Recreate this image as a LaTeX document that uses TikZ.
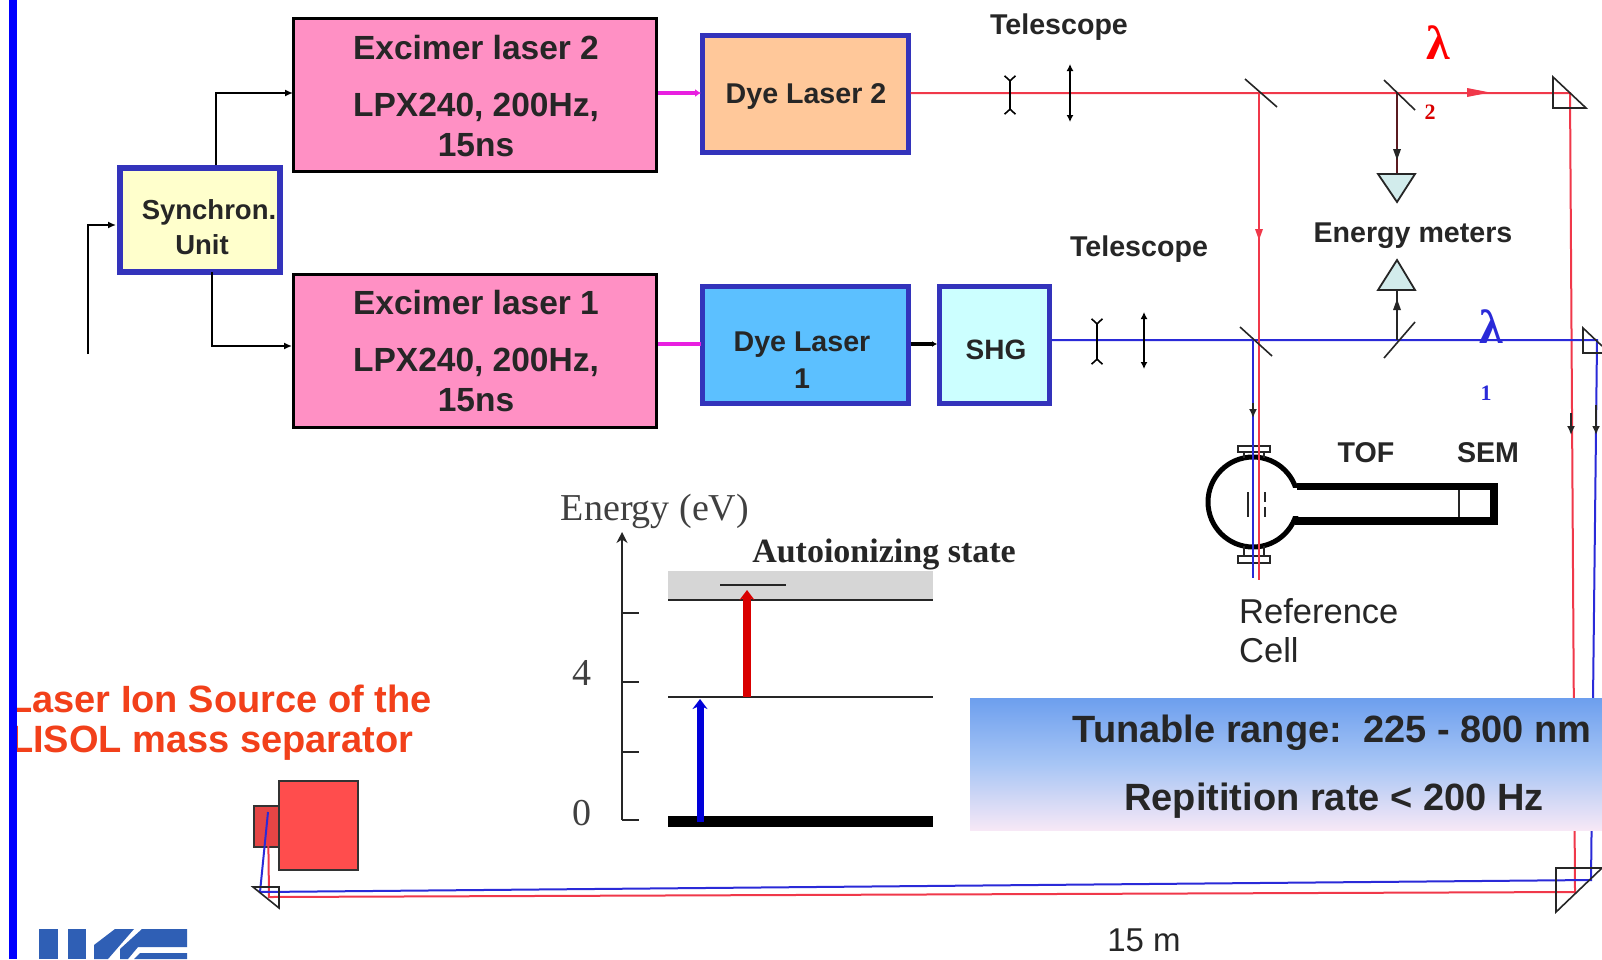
\documentclass[tikz,border=0pt]{standalone}
\usepackage{fontspec}
\setmainfont{Liberation Sans}
\newfontfamily\serifr{Liberation Serif}
\usetikzlibrary{arrows.meta,calc}
\definecolor{pinkbox}{HTML}{FF90C4}
\definecolor{dyeorange}{HTML}{FFC89A}
\definecolor{dyeblue}{HTML}{5CC0FF}
\definecolor{shgcyan}{HTML}{CCFFFF}
\definecolor{syncyel}{HTML}{FFFFCC}
\definecolor{edgeblue}{HTML}{3333BB}
\definecolor{beamred}{HTML}{F0384A}
\definecolor{beamblue}{HTML}{2A2AD8}
\definecolor{redtxt}{HTML}{F2401A}
\definecolor{metercol}{HTML}{D2ECEC}
\definecolor{logoblue}{HTML}{2F5FB5}
\definecolor{srcred}{HTML}{FF4D4D}
\definecolor{gradtop}{HTML}{6D9FEE}
\definecolor{gradbot}{HTML}{F7E8F6}
\definecolor{pumpmag}{HTML}{E81FE0}
\definecolor{darkred}{HTML}{5A1A20}
\tikzset{
  pinkb/.style={draw=black,line width=3pt,fill=pinkbox,inner sep=0pt,align=center},
  bluebox/.style={draw=edgeblue,line width=4.5pt,inner sep=0pt,align=center},
  blabel/.style={inner sep=0pt,font=\bfseries\fontsize{28.6}{30}\selectfont,text=black!85},
  lab/.style={inner sep=0pt,font=\fontsize{34.5}{36}\selectfont,text=black!85},
  exc/.style={inner sep=0pt,font=\bfseries\fontsize{33.5}{38}\selectfont,text=black!85,align=center},
  bigt/.style={inner sep=0pt,font=\bfseries\fontsize{38}{40}\selectfont,text=black!85},
  redt/.style={inner sep=0pt,anchor=west,font=\bfseries\fontsize{38}{40}\selectfont,text=redtxt},
  sert/.style={inner sep=0pt,font=\serifr\fontsize{38}{40}\selectfont,text=black!75},
  wire/.style={line width=1.5pt,-{Latex[length=8pt,width=7pt]}},
  redbeam/.style={draw=beamred,line width=2pt},
  bluebeam/.style={draw=beamblue,line width=2pt},
  mirror/.style={line width=1.6pt,draw=black!85},
  lensarr/.style={line width=1.6pt,{Latex[length=7pt,width=7pt]}-{Latex[length=7pt,width=7pt]}},
  lensdiv/.style={line width=1.6pt,{Straight Barb[reversed,length=5pt,width=11pt]}-{Straight Barb[reversed,length=5pt,width=11pt]}},
  prism/.style={line width=1.6pt,draw=black!85},
  meter/.style={line width=1.8pt,draw=black!85,fill=metercol},
  level/.style={line width=1.5pt,draw=black!85},
  tick/.style={line width=1.4pt,draw=black!85},
}
\begin{document}
\begin{tikzpicture}[x=1pt,y=-1pt]
\useasboundingbox (0,0) rectangle (1602,959);
\fill[white] (0,0) rectangle (1602,959);
% boxes
\node[pinkb,minimum width=363pt,minimum height=153pt,anchor=north west] (exc2) at (292,17) {};
\node[pinkb,minimum width=363pt,minimum height=153pt,anchor=north west] (exc1) at (292,273) {};
\node[exc] (exc2a) at (476,48) {Excimer laser 2};
\node[exc] (exc2b) at (476,107) {LPX240, 200Hz,};
\node[exc] (exc2c) at (476,145) {15ns};
\node[exc] (exc1a) at (476,303) {Excimer laser 1};
\node[exc] (exc1b) at (476,362) {LPX240, 200Hz,};
\node[exc] (exc1c) at (476,400) {15ns};
\node[bluebox,fill=dyeorange,minimum width=206pt,minimum height=117pt,anchor=north west] (dye2) at (700,33) {};
\node[blabel] (dye2t) at (806,96) {Dye Laser 2};
\node[bluebox,fill=dyeblue,minimum width=206pt,minimum height=117pt,anchor=north west] (dye1) at (700,284) {};
\node[blabel] (dye1t) at (802,345) {Dye Laser};
\node[blabel] (dye1u) at (802,379) {1};
\node[bluebox,fill=shgcyan,minimum width=110pt,minimum height=117pt,anchor=north west] (shg) at (937,284) {};
\node[blabel,font=\bfseries\fontsize{28}{30}\selectfont] (shgt) at (996,350) {SHG};
\node[bluebox,fill=syncyel,line width=6pt,minimum width=160pt,minimum height=104pt,anchor=north west] (sync) at (117,165) {};
\node[inner sep=0pt,font=\bfseries\fontsize{27.5}{30}\selectfont,text=black!85] (synct) at (209,212) {Synchron.};
\node[inner sep=0pt,font=\bfseries\fontsize{27.5}{30}\selectfont,text=black!85] (syncu) at (202,245) {Unit};
% wires
\coordinate (c1) at (216,165);
\coordinate (c2) at (212,272);
\coordinate (ein) at (88,354);
\coordinate (einb) at (116,225);
\coordinate (i2) at (293,93);
\coordinate (i1) at (292,346);
\draw[wire] (c1) |- (i2);
\draw[wire] (c2) |- (i1);
\draw[wire] (ein) |- (einb);
\coordinate (m2a) at (658,93); \coordinate (m2b) at (701,93);
\coordinate (m1a) at (658,344); \coordinate (m1b) at (701,344);
\draw[line width=4pt,draw=pumpmag,-{Latex[length=6pt,width=8pt]}] (m2a) -- (m2b);
\draw[line width=4pt,draw=pumpmag] (m1a) -- (m1b);
\draw[line width=4pt,draw=black,-{Latex[length=5pt,width=6pt]}] (dye1.east |- 0,344) -- (shg.west |- 0,344);
% beam coordinates
\coordinate (r0) at (dye2.east |- 0,93);
\coordinate (rm1) at (1259,93);
\coordinate (rm2) at (1397,93);
\coordinate (rp) at (1570,93);
\coordinate (rpb) at (1575,892);
\coordinate (rl) at (269,897);
\coordinate (rs) at (268,812);
\coordinate (rbot) at (1259,580);
\coordinate (b0) at (shg.east |- 0,340);
\coordinate (bm1) at (1253,340);
\coordinate (bm2) at (1397,340);
\coordinate (bp) at (1597,340);
\coordinate (bpb) at (1591,880);
\coordinate (bl) at (260,892);
\coordinate (bs) at (268,812);
\coordinate (bbot) at (1253,578);
% source
\node[draw=black!80,line width=1.5pt,fill=srcred,minimum width=79pt,minimum height=89pt,inner sep=0pt,anchor=north west] (srcbig) at (278,780) {};
\node[draw=black!80,line width=1.5pt,fill=srcred!90!black,minimum width=25pt,minimum height=41pt,inner sep=0pt,anchor=north west] (srcsm) at (253,805) {};
% reference cell
\coordinate (cc) at (1253,502);
\draw[line width=5pt,black] (cc) circle[radius=45];
\fill[white] (1285,488) rectangle (1303,516);
\draw[line width=1.5pt,black!85] (1238,446) rectangle (1270,452);
\draw[line width=1.5pt,black!85] (1238,556) rectangle (1270,563);
\draw[line width=1.5pt,black!85] (1244,452) -- (1244,458) (1264,452) -- (1264,458);
\draw[line width=1.5pt,black!85] (1244,546) -- (1244,556) (1264,546) -- (1264,556);
\fill[black] (1297,483) rectangle (1498,490);
\fill[black] (1295,517) rectangle (1498,525);
\fill[black] (1490,483) rectangle (1498,525);
\draw[line width=1.2pt,black!85] (1459,490) -- (1459,517);
\draw[line width=2pt,black!85] (1248,492) -- (1248,517);
\draw[line width=2pt,black!85,dash pattern=on 10pt off 5pt] (1265,492) -- (1265,517);
% beams
\draw[redbeam] (r0) -- (rp) -- (rpb) -- (rl) -- (rs);
\draw[bluebeam] (b0) -- (bp) -- (bpb) -- (bl) -- (bs);
\draw[redbeam] (rm1) -- (rbot);
\draw[bluebeam] (bm1) -- (bbot);
\draw[line width=1.6pt,draw=darkred] (rm2) -- (1397,174);
\draw[line width=1.5pt,draw=black!85] (bm2) -- (1397,290);
% arrowheads on beams
\fill[beamred] (1467,88) -- (1490,92.5) -- (1467,97) -- cycle;
\fill[beamred] (1255,229) -- (1263,229) -- (1259,240) -- cycle;
\fill[black!85] (1393,149) -- (1401,149) -- (1397,160) -- cycle;
\fill[black!85] (1393,310) -- (1401,310) -- (1397,299) -- cycle;
\draw[line width=1.6pt,black!85,-{Latex[length=9pt,width=8pt]}] (1253,403) -- (1253,418);
\draw[line width=1.6pt,black!85,-{Latex[length=9pt,width=8pt]}] (1571,413) -- (1571,435);
\draw[line width=2.6pt,black!85,-{Latex[length=9pt,width=8pt]}] (1596,405) -- (1596,435);
% telescopes
\coordinate (t1a) at (1010,75); \coordinate (t1b) at (1010,115);
\coordinate (t2a) at (1070,64); \coordinate (t2b) at (1070,122);
\coordinate (t3a) at (1097,318); \coordinate (t3b) at (1097,365);
\coordinate (t4a) at (1144,312); \coordinate (t4b) at (1144,369);
\draw[lensdiv] (t1a) -- (t1b);
\draw[lensarr] (t2a) -- (t2b);
\draw[lensdiv] (t3a) -- (t3b);
\draw[lensarr] (t4a) -- (t4b);
\node[blabel] (tel1) at (1059,27) {Telescope};
\node[blabel] (tel2) at (1139,249) {Telescope};
\node[blabel] (enm) at (1413,236) {Energy meters};
\node[blabel] (tof) at (1366,453) {TOF};
\node[blabel] (sem) at (1488,453) {SEM};
\node[lab,anchor=west] (refa) at (1239,611) {Reference};
\node[lab,anchor=west] (refb) at (1239,650) {Cell};
\node[lab,font=\fontsize{33}{36}\selectfont] (dist) at (1144,940) {15 m};
% mirrors
\draw[mirror] (1245,79) -- (1277,107);
\draw[mirror] (1384,80) -- (1415,110);
\draw[mirror] (1240,327) -- (1272,356);
\draw[mirror] (1384,358) -- (1415,322);
% prisms
\draw[prism] (1553,77) -- (1586,108) -- (1553,108) -- cycle;
\draw[prism] (1602,346) -- (1583,328) -- (1583,353) -- (1602,353);
\draw[prism] (1556,868) -- (1602,868) -- (1556,912) -- cycle;
\draw[prism] (253,887) -- (279,887) -- (279,908) -- cycle;
% meters
\draw[meter] (1378,174) -- (1415,174) -- (1397,202) -- cycle;
\draw[meter] (1378,290) -- (1415,290) -- (1397,260) -- cycle;
% labels
\node[text=red,inner sep=0pt,font=\serifr\bfseries\fontsize{48}{48}\selectfont] (lr) at (1438,43) {λ};
\node[text=red!85!black,inner sep=0pt,font=\serifr\bfseries\fontsize{22}{22}\selectfont] (lr2) at (1430,112) {2};
\node[text=beamblue,inner sep=0pt,font=\serifr\bfseries\fontsize{48}{48}\selectfont] (lb) at (1491,327) {λ};
\node[text=beamblue,inner sep=0pt,font=\serifr\bfseries\fontsize{22}{22}\selectfont] (lb1) at (1486,393) {1};
% energy diagram
\fill[black!16] (668,571) rectangle (933,600);
\coordinate (axb) at (622,820);
\coordinate (axt) at (622,532);
\draw[line width=1.6pt,black!85,-{Stealth[length=11pt,width=11pt]}] (axb) -- (axt);
\draw[tick] (622,613) -- (639,613);
\draw[tick] (622,682) -- (639,682);
\draw[tick] (622,752) -- (639,752);
\draw[tick] (622,820) -- (639,820);
\draw[level] (668,600) -- (933,600);
\draw[level] (668,697) -- (933,697);
\fill[black] (668,816) rectangle (933,827);
\draw[level,line width=2pt] (720,585) -- (786,585);
\draw[line width=8pt,draw=red!85!black,-{Stealth[length=10pt,width=15pt]}] (747,697) -- (747,590);
\draw[line width=7pt,draw=blue!85!black,-{Stealth[length=10pt,width=15pt]}] (700,822) -- (700,699);
\node[sert] (eaxis) at (655,511) {Energy (eV)};
\node[sert] (e4) at (582,673) {4};
\node[sert] (e0) at (582,813) {0};
\node[inner sep=0pt,font=\serifr\bfseries\fontsize{34}{36}\selectfont,text=black!85] (auto) at (884,554) {Autoionizing state};
% gradient box
\node[inner sep=0pt,minimum width=632pt,minimum height=132pt,anchor=north west,top color=gradtop,bottom color=gradbot,middle color=gradtop!60!white] (grad) at (970,698) {};
\node[bigt] (tun) at (1332,733) {Tunable range:\ \ 225 - 800 nm};
\node[bigt] (rep) at (1334,801) {Repitition rate < 200 Hz};
% red heading
\node[redt] (h1) at (9,699) {Laser Ion Source of the};
\node[redt] (h2) at (10,743) {LISOL mass separator};
% left bar
\fill[blue] (9,0) rectangle (17,959);
% logo
\fill[logoblue] (39,929) rectangle (58,959);
\fill[logoblue] (68,929) rectangle (86,959);
\fill[logoblue] (115,929) -- (134,929) -- (108,959) -- (94,959) -- (94,945) -- cycle;
\fill[logoblue] (142,929) -- (187,929) -- (187,947) -- (138,947) -- (128,959) -- (120,959) -- (120,949) -- cycle;
\fill[logoblue] (140,953) -- (187,953) -- (187,959) -- (134,959) -- cycle;
\end{tikzpicture}
\end{document}
